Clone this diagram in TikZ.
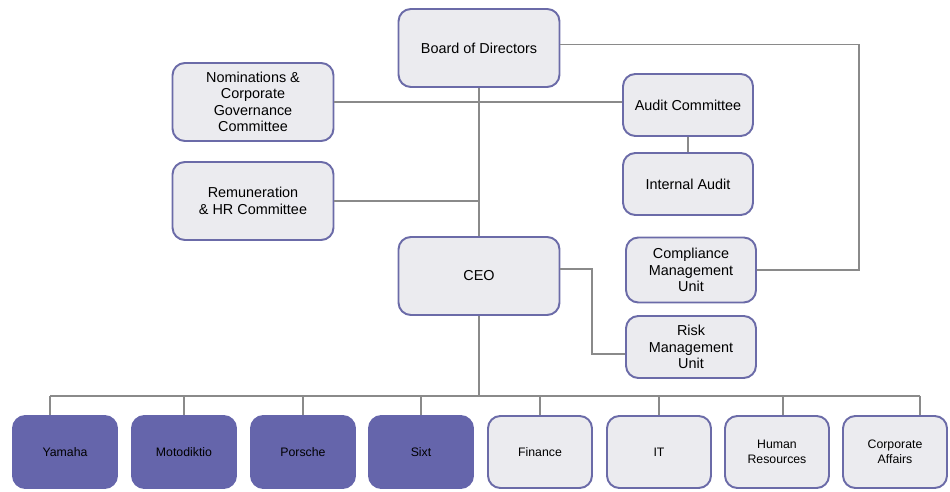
\documentclass[tikz,border=0pt]{standalone}
\usepackage{fontspec}
\setmainfont{Liberation Sans}
\usetikzlibrary{positioning}
\definecolor{boxfill}{HTML}{EBEBEF}
\definecolor{boxline}{HTML}{6B6BA8}
\definecolor{brandfill}{HTML}{6565AB}
\definecolor{wire}{HTML}{8A8A8A}

\begin{document}
\begin{tikzpicture}[x=0.02cm,y=-0.02cm,
		org/.style={draw=boxline,fill=boxfill,line width=1.1pt,rounded corners=7pt,
			align=center,inner sep=1pt,font=\fontsize{8.2}{9.4}\selectfont},
		wide/.style={org,minimum width=3.22cm,minimum height=1.56cm},
		side/.style={org,minimum width=2.6cm,minimum height=1.24cm},
		unit/.style={org,minimum width=2.08cm,minimum height=1.44cm,font=\fontsize{7}{8.4}\selectfont},
		brand/.style={unit,fill=brandfill,draw=brandfill},
		link/.style={draw=wire,line width=0.7pt}]
		\useasboundingbox (0,0) rectangle (950,492);
		% upper part
		\node[wide] (board) at (479,48) {Board of Directors};
		\node[wide] (nom) at (253,102) {Nominations \&\\Corporate\\Governance\\Committee};
		\node[wide] (rem) at (253,201) {Remuneration\\\& HR Committee};
		\node[wide] (ceo) at (479,276) {CEO};
		\node[side] (audit) at (688,105) {Audit Committee};
		\node[side] (ia) at (688,184) {Internal Audit};
		\node[side,minimum height=1.3cm] (comp) at (691,270) {Compliance\\Management\\Unit};
		\node[side] (risk) at (691,347) {Risk\\Management\\Unit};
		% bottom row
		\node[brand] (yamaha) at (65,452) {Yamaha};
		\node[brand] (moto) at (184,452) {Motodiktio};
		\node[brand] (porsche) at (303,452) {Porsche};
		\node[brand] (sixt) at (421,452) {Sixt};
		\node[unit] (fin) at (540,452) {Finance};
		\node[unit] (it) at (659,452) {IT};
		\node[unit] (hr) at (777,452) {Human\\Resources};
		\node[unit] (corp) at (895,452) {Corporate\\Affairs};
		% connectors
		\coordinate (rt) at (859,0);
		\coordinate (rk) at (592,0);
		\coordinate (bus) at (0,396);
		\path[link]
		(board.south) edge (ceo.north)
		(nom.east) edge (nom.east -| audit.west)
		(rem.east) edge (rem.east -| board.south)
		(audit.south) edge (ia.north);
		\draw[link] ([yshift=2pt]board.east) -- ([yshift=2pt]board.east -| rt) -- (rt |- comp.east) -- (comp.east);
		\draw[link] ([yshift=4pt]ceo.east) -- ([yshift=4pt]ceo.east -| rk) -- ([yshift=-4pt]rk |- risk.west) -- ([yshift=-4pt]risk.west);
		\draw[link] (ceo.south) -- (ceo.south |- bus);
		\draw[link] ([xshift=-15*0.02cm]yamaha.north |- bus) -- ([xshift=25*0.02cm]corp.north |- bus);
		\foreach \n/\dx in {yamaha/-15,moto/0,porsche/0,sixt/0,fin/0,it/0,hr/6,corp/25}
		\draw[link] ([xshift=\dx*0.02cm]\n.north |- bus) -- ([xshift=\dx*0.02cm]\n.north);
	\end{tikzpicture}
\end{document}
